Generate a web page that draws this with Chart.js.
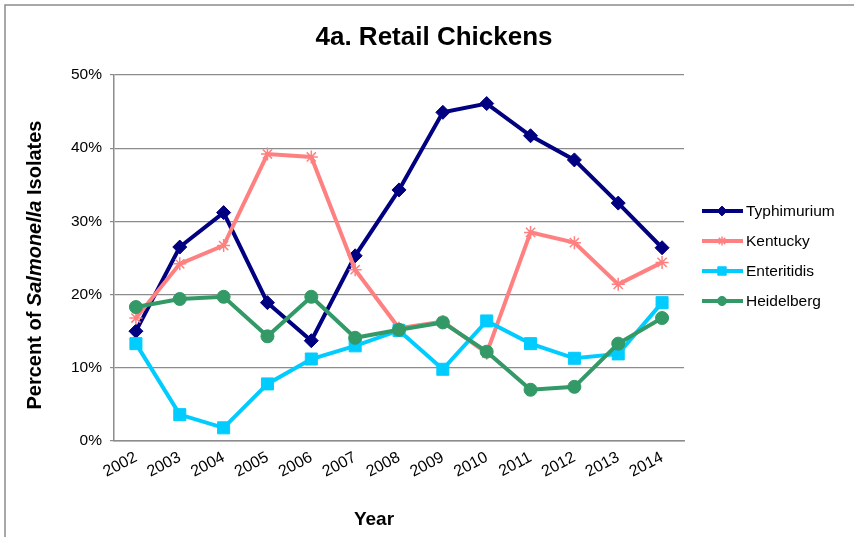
<!DOCTYPE html>
<html>
<head>
<meta charset="utf-8">
<script src="https://cdn.jsdelivr.net/npm/chart.js@4/dist/chart.umd.min.js"></script>
<style>
  html, body { margin: 0; padding: 0; background: #fff; }
  #wrap { width: 854px; height: 537px; }
</style>
</head>
<body>
<div id="wrap"><canvas id="myChart" width="854" height="537"></canvas></div>
<script>
// datos (porcentaje de aislados)
const anios = ["2002", "2003", "2004", "2005", "2006", "2007", "2008", "2009", "2010", "2011", "2012", "2013", "2014"];
const typhimurium = [15.0, 26.5, 31.2, 18.9, 13.7, 25.3, 34.3, 44.9, 46.1, 41.7, 38.4, 32.5, 26.4];
const kentucky = [16.8, 24.2, 26.7, 39.2, 38.8, 23.4, 15.4, 16.3, 12.0, 28.5, 27.1, 21.4, 24.4];
const enteritidis = [13.3, 3.6, 1.8, 7.8, 11.2, 13.0, 15.1, 9.8, 16.4, 13.3, 11.3, 11.9, 18.9];
const heidelberg = [18.3, 19.4, 19.7, 14.3, 19.7, 14.1, 15.2, 16.2, 12.2, 7.0, 7.4, 13.3, 16.8];
const yTicks = [0, 10, 20, 30, 40, 50];

const FONT = "'Liberation Sans', Arial, sans-serif";

function serie(label, data, color, estilo, radio, orden) {
  return {
    label: label,
    data: data,
    order: orden, // como en Excel: la ultima serie queda encima
    borderColor: color,
    backgroundColor: color,
    borderWidth: 4,
    pointStyle: estilo,
    pointRadius: radio,
    pointHoverRadius: radio,
    pointBorderWidth: estilo === "star" ? 1.5 : 1,
    pointBorderColor: color,
    pointBackgroundColor: color,
    tension: 0,
  };
}

// titulos, borde y leyenda dibujados a mano
const extras = {
  id: "extras",
  beforeDraw(chart) {
    const ctx = chart.ctx;
    ctx.save();
    ctx.fillStyle = "#fff";
    ctx.fillRect(0, 0, chart.width, chart.height);
    ctx.restore();
  },
  afterDraw(chart) {
    const ctx = chart.ctx;
    ctx.save();
    // borde del grafico
    ctx.strokeStyle = "#8c8c8c";
    ctx.lineWidth = 1.5;
    ctx.beginPath();
    ctx.moveTo(5, chart.height);
    ctx.lineTo(5, 5);
    ctx.lineTo(chart.width, 5);
    ctx.stroke();

    // titulo
    ctx.fillStyle = "#000";
    ctx.textAlign = "center";
    ctx.textBaseline = "alphabetic";
    ctx.font = "bold 26px " + FONT;
    ctx.fillText("4a. Retail Chickens", 434, 45);

    // titulo eje x
    ctx.font = "bold 19px " + FONT;
    ctx.fillText("Year", 374, 525);

    // titulo eje y (con Salmonella en cursiva)
    const partes = [
      { t: "Percent of ", f: "bold 20px " + FONT },
      { t: "Salmonella", f: "italic bold 20px " + FONT },
      { t: " Isolates", f: "bold 20px " + FONT },
    ];
    let total = 0;
    partes.forEach(p => { ctx.font = p.f; p.w = ctx.measureText(p.t).width; total += p.w; });
    ctx.translate(41, 265);
    ctx.rotate(-Math.PI / 2);
    ctx.textAlign = "left";
    let x = -total / 2;
    partes.forEach(p => { ctx.font = p.f; ctx.fillText(p.t, x, 0); x += p.w; });
    ctx.setTransform(1, 0, 0, 1, 0, 0);

    // leyenda
    ctx.font = "15.5px " + FONT;
    ctx.textAlign = "left";
    ctx.textBaseline = "middle";
    chart.data.datasets.forEach((ds, i) => {
      const y = 211 + i * 30;
      ctx.strokeStyle = ds.borderColor;
      ctx.lineWidth = 4;
      ctx.beginPath();
      ctx.moveTo(702, y);
      ctx.lineTo(743, y);
      ctx.stroke();
      if (Chart.helpers && Chart.helpers.drawPoint) {
        ctx.fillStyle = ds.backgroundColor;
        ctx.lineWidth = ds.pointBorderWidth;
        Chart.helpers.drawPoint(ctx, {
          pointStyle: ds.pointStyle,
          radius: ds.pointRadius * 0.7,
          borderWidth: ds.pointBorderWidth,
          rotation: 0,
        }, 722, y);
      }
      ctx.fillStyle = "#000";
      ctx.fillText(ds.label, 746, y + 1);
    });
    ctx.restore();
  }
};

const config = {
  type: "line",
  data: {
    labels: anios,
    datasets: [
      serie("Typhimurium", typhimurium, "#000080", "rectRot", 7, 4),
      serie("Kentucky", kentucky, "#ff8080", "star", 6.5, 3),
      serie("Enteritidis", enteritidis, "#00ccff", "rect", 8.5, 2),
      serie("Heidelberg", heidelberg, "#339966", "circle", 6.5, 1),
    ],
  },
  options: {
    responsive: false,
    animation: false,
    layout: { padding: { left: 0, top: 75, right: 170, bottom: 0 } },
    plugins: {
      legend: { display: false },
      title: { display: false },
      tooltip: { enabled: false },
    },
    scales: {
      x: {
        offset: true,
        grid: { display: false, drawTicks: false },
        border: { display: true, color: "#8c8c8c", width: 1.5 },
        ticks: {
          color: "#000",
          font: { family: FONT, size: 16 },
          maxRotation: 28,
          minRotation: 28,
          padding: 7,
          autoSkip: false,
        },
        afterFit(scale) { scale.height = 96; },
      },
      y: {
        min: 0,
        max: 50,
        afterBuildTicks(scale) { scale.ticks = yTicks.map(v => ({ value: v })); },
        grid: { color: "#8c8c8c", lineWidth: 1.2, tickLength: 4, drawTicks: true },
        border: { display: true, color: "#8c8c8c", width: 1.5 },
        ticks: {
          color: "#000",
          font: { family: FONT, size: 15.5 },
          padding: 8,
          callback: v => v + "%",
        },
        afterFit(scale) { scale.width = 114; },
      },
    },
  },
  plugins: [extras],
};

let myChart = new Chart(document.getElementById("myChart"), config);
</script>
</body>
</html>
